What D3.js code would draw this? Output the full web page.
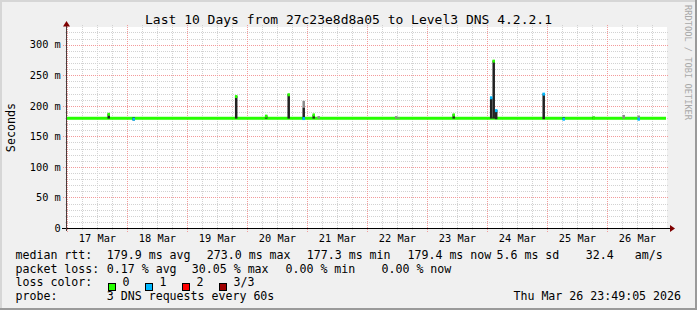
<!DOCTYPE html>
<html><head><meta charset="utf-8">
<script src="https://cdn.jsdelivr.net/npm/d3@7"></script>
<style>
html,body{margin:0;padding:0;background:#f0f0f0;}
svg{display:block;}
text{font-family:"DejaVu Sans Mono",monospace;fill:#000;}
</style>
</head><body>
<svg id="c" width="697" height="310"></svg>
<script>
// ---------- data ----------
const title = "Last 10 Days from 27c23e8d8a05 to Level3 DNS 4.2.2.1";
const startTime = "2026-03-16T23:49:05";
const endTime = "2026-03-26T23:49:05";
const yMax = 328;               // ms, top of value axis
const yTicks = [0, 50, 100, 150, 200, 250, 300];
const baselineMedian = 179.5;   // ms, median rtt most of the time (loss 0)

// hourly bins that differ from the baseline
const binTimes  = ["2026-03-17T16:00:00","2026-03-18T02:00:00","2026-03-19T19:00:00","2026-03-20T07:00:00",
                   "2026-03-20T16:00:00","2026-03-20T22:00:00","2026-03-21T02:00:00","2026-03-21T04:00:00",
                   "2026-03-22T11:00:00","2026-03-22T12:00:00","2026-03-23T10:00:00","2026-03-24T01:00:00",
                   "2026-03-24T02:00:00","2026-03-24T03:00:00","2026-03-24T22:00:00","2026-03-25T06:00:00",
                   "2026-03-25T18:00:00","2026-03-26T06:00:00","2026-03-26T12:00:00"];
const binLo     = [179, 176, 179, 179, 179, 178, 179, 179, 179, 179, 179, 179, 179, 178, 178, 177, 179, 179, 178];
const binMid    = [187, 181, 216, 184, 219, 197, 185, 179, 179, 179, 186, 213, 274, 193, 220, 181, 182, 179, 179];
const binHi     = [187, 181, 216, 184, 219, 208, 185, 183, 183, 181, 186, 213, 274, 193, 220, 181, 182, 185, 184];
const binMedian = [186, 178, 215, 183, 218, 179, 185, null, null, null, 185, 213, 273, 192, 219, 178, 180, null, 178];
const binLoss   = [0,   1,   0,   0,   0,   1,   0,   0,   0,   0,   0,   1,   0,   1,   1,   1,   0,   0,   1];

const lossLabels = ["0", "1", "2", "3/3"];
const lossColors = ["#26ff00", "#00b8ff", "#ff0000", "#a00000"];
const rttNames  = ["avg", "max", "min", "now"];
const rttValues = [179.9, 273.0, 177.3, 179.4];
const rttSd = 5.6;
const rttAmps = 32.4;
const lossNames  = ["avg", "max", "min", "now"];
const lossValues = [0.17, 30.05, 0.00, 0.00];
const probeText = "3 DNS requests every 60s";
const stampText = "Thu Mar 26 23:49:05 2026";
const yTitle = "Seconds";
const watermark = "RRDTOOL / TOBI OETIKER";

// ---------- layout ----------
const W = 697, H = 310;
const L = 67, R = 667, T = 27, B = 228;
const parse = d3.timeParse("%Y-%m-%dT%H:%M:%S");
const t0 = parse(startTime), t1 = parse(endTime);
const x = d3.scaleTime().domain([t0, t1]).range([L, R]);
const y = d3.scaleLinear().domain([0, yMax]).range([B, T + 0.5]);

const svg = d3.select("#c");

// frame
svg.append("rect").attr("x",0).attr("y",0).attr("width",W).attr("height",H).attr("fill","#f0f0f0");
svg.append("rect").attr("x",0).attr("y",0).attr("width",W).attr("height",2).attr("fill","#d6d6d6");
svg.append("rect").attr("x",0).attr("y",0).attr("width",2).attr("height",H).attr("fill","#d6d6d6");
svg.append("rect").attr("x",0).attr("y",H-2).attr("width",W).attr("height",2).attr("fill","#9a9a9a");
svg.append("rect").attr("x",W-2).attr("y",0).attr("width",2).attr("height",H).attr("fill","#9a9a9a");

// plot area
svg.append("rect").attr("x",L).attr("y",T).attr("width",R-L).attr("height",B-T).attr("fill","#ffffff");

const g = svg.append("g");
const px = v => Math.round(v) + 0.5;
const minorColor = "#d2d2d2", majorColor = "#f39a9a";
// minor grid
const minorX = d3.timeHour.every(6).range(t0, t1).filter(d => d.getHours() !== 0);
g.append("g").selectAll("line").data(minorX).join("line")
  .attr("x1", d => px(x(d))).attr("x2", d => px(x(d)))
  .attr("y1", T - 2).attr("y2", B + 2)
  .attr("stroke", minorColor).attr("stroke-width", 1).attr("stroke-dasharray", "1,1");
const minorY = d3.range(10, yMax, 10).filter(v => v % 50 !== 0);
g.append("g").selectAll("line").data(minorY).join("line")
  .attr("x1", L - 2).attr("x2", R + 2)
  .attr("y1", d => px(y(d))).attr("y2", d => px(y(d)))
  .attr("stroke", minorColor).attr("stroke-width", 1).attr("stroke-dasharray", "1,1");
// major grid
const majorX = d3.timeDay.range(d3.timeDay.ceil(t0), t1);
g.append("g").selectAll("line").data(majorX).join("line")
  .attr("x1", d => px(x(d))).attr("x2", d => px(x(d)))
  .attr("y1", T - 2).attr("y2", B + 4)
  .attr("stroke", majorColor).attr("stroke-width", 1).attr("stroke-dasharray", "1,1");
g.append("g").selectAll("line").data(yTicks.filter(v => v > 0)).join("line")
  .attr("x1", L - 4).attr("x2", R + 2)
  .attr("y1", d => px(y(d))).attr("y2", d => px(y(d)))
  .attr("stroke", majorColor).attr("stroke-width", 1).attr("stroke-dasharray", "1,1");

// baseline median (loss 0)
svg.append("rect").attr("x", L).attr("width", R - 1 - L)
  .attr("y", y(baselineMedian) - 1.5).attr("height", 3).attr("fill", lossColors[0]);

// smoke & medians
const bins = binTimes.map((t, i) => ({
  t: parse(t), lo: binLo[i], mid: binMid[i], hi: binHi[i], med: binMedian[i], loss: binLoss[i]
}));
const bx = d => x(d.t);
const bw = d => x(d3.timeHour.offset(d.t, 1)) - x(d.t);
svg.append("g").selectAll("rect").data(bins.filter(d => d.hi > d.mid)).join("rect")
  .attr("x", bx).attr("width", bw)
  .attr("y", d => y(d.hi)).attr("height", d => y(d.mid) - y(d.hi))
  .attr("fill", "#8a8a8a");
svg.append("g").selectAll("rect").data(bins.filter(d => d.mid > d.lo)).join("rect")
  .attr("x", bx).attr("width", bw)
  .attr("y", d => y(d.mid)).attr("height", d => y(d.lo) - y(d.mid))
  .attr("fill", "#222222");
svg.append("g").selectAll("rect").data(bins.filter(d => d.med !== null)).join("rect")
  .attr("x", bx).attr("width", bw)
  .attr("y", d => y(d.med) - 1.5).attr("height", 3)
  .attr("fill", d => lossColors[d.loss]);

// axes
svg.append("line").attr("x1", L - 5).attr("x2", R + 4).attr("y1", B + 0.5).attr("y2", B + 0.5)
  .attr("stroke", "#000").attr("stroke-width", 1);
svg.append("path").attr("d", `M${R+3},${B-3} L${R+8},${B+0.5} L${R+3},${B+4} Z`).attr("fill", "#7f0000");
svg.append("line").attr("x1", L - 0.5).attr("x2", L - 0.5).attr("y1", B + 3).attr("y2", T - 3)
  .attr("stroke", "#4a3c3c").attr("stroke-width", 1);
svg.append("path").attr("d", `M${L-4},${T-0.5} L${L-0.5},${T-6} L${L+3},${T-0.5} Z`).attr("fill", "#7f0000");

// y labels
svg.append("g").selectAll("text").data(yTicks).join("text")
  .attr("x", 60.8).attr("y", d => y(d) + 3.8)
  .attr("text-anchor", "end").style("font-size", "10.3px")
  .text(d => d === 0 ? "0" : d + " m");

// x labels at noon
const fmt = d3.timeFormat("%d %b");
const noons = d3.timeDay.range(d3.timeDay.floor(t0), t1).map(d => d3.timeHour.offset(d, 12))
  .filter(d => d > t0 && d < t1);
svg.append("g").selectAll("text").data(noons).join("text")
  .attr("x", d => x(d)).attr("y", 241.5)
  .attr("text-anchor", "middle").style("font-size", "10.3px")
  .text(fmt);

// title
svg.append("text").attr("x", 348.5).attr("y", 23.5).attr("text-anchor", "middle")
  .style("font-size", "13px").text(title);

// y title
svg.append("text").attr("transform", `translate(14.5,${(T + B) / 2}) rotate(-90)`)
  .attr("text-anchor", "middle").style("font-size", "11.7px").text(yTitle);

// watermark
svg.append("text").attr("transform", "translate(685,5) rotate(90)")
  .attr("text-anchor", "start").style("font-size", "8.7px").style("fill", "#a8a8a8").text(watermark);

// legend
const lg = svg.append("g").style("font-size", "11.6px");
const put = (s, px, py, anchor) => lg.append("text").attr("x", px).attr("y", py)
  .attr("text-anchor", anchor || "start").text(s);
const r1 = 258.5, r2 = 272.5, r3 = 286.3, r4 = 300.2;
put("median rtt:", 15.5, r1);
const rttX = [106.8, 206.8, 306.8, 407.5];
rttValues.forEach((v, i) => put(`${v.toFixed(1)} ms ${rttNames[i]}`, rttX[i], r1));
put(`${rttSd.toFixed(1)} ms sd`, 496.5, r1);
put(`${rttAmps.toFixed(1)}`, 585.8, r1);
put("am/s", 634.8, r1);

put("packet loss:", 15.5, r2);
const lossX = [106.8, 191.8, 285.5, 381.5];
lossValues.forEach((v, i) => put(`${v.toFixed(2)} % ${lossNames[i]}`, lossX[i], r2));

put("loss color:", 15.5, r3);
lossLabels.forEach((lbl, i) => {
  const bxp = 108.5 + i * 37;
  lg.append("rect").attr("x", bxp).attr("y", 283.5).attr("width", 7).attr("height", 7)
    .attr("fill", lossColors[i]).attr("stroke", "#000").attr("stroke-width", 1);
  put(lbl, bxp + 14, r3);
});

put("probe:", 15.5, r4);
put(probeText, 106.8, r4);
put(stampText, 681, r4, "end");
</script>
</body></html>
